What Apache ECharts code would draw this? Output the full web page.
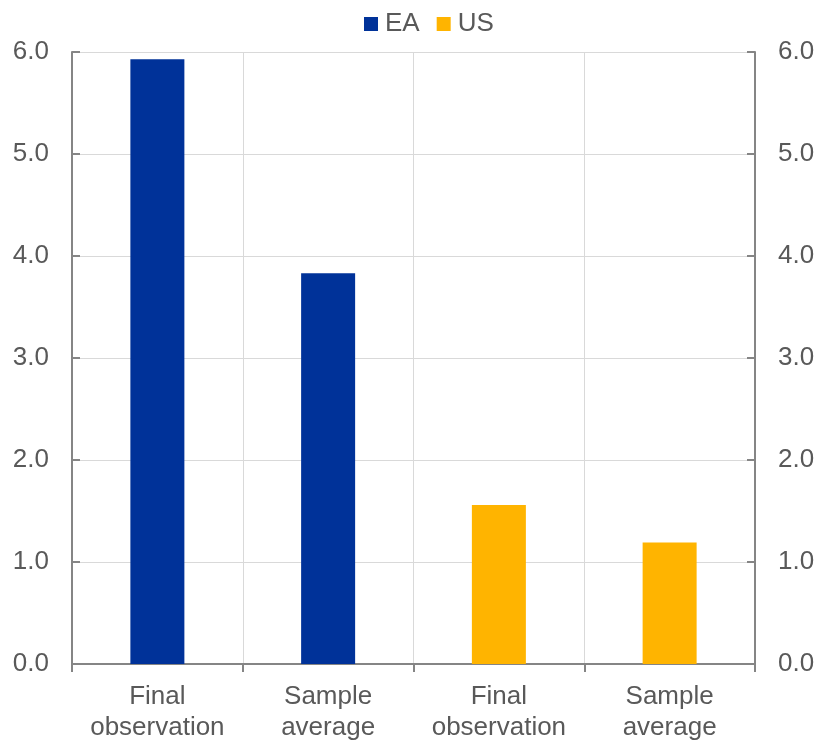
<!DOCTYPE html>
<html>
<head>
<meta charset="utf-8">
<script src="https://cdn.jsdelivr.net/npm/echarts@6/dist/echarts.min.js"></script>
<style>
  html, body { margin: 0; padding: 0; background: #fff; }
  #chart { width: 825px; height: 740px; }
</style>
</head>
<body>
<div id="chart"></div>
<script>
// Categories along the x axis
const categories = ['Final\nobservation', 'Sample\naverage', 'Final\nobservation', 'Sample\naverage'];
// Euro area values (first two groups) and US values (last two groups)
const eaValues = [5.93, 3.83, null, null];
const usValues = [null, null, 1.56, 1.19];
// Value axis range
const axisMin = 0;
const axisMax = 6;
const axisStep = 1;

const textColor = '#595959';
const axisColor = '#858585';
const gridColor = '#d9d9d9';
const fontFamily = 'Liberation Sans, Arial, sans-serif';

const valueAxis = (position) => ({
  type: 'value',
  position: position,
  min: axisMin,
  max: axisMax,
  interval: axisStep,
  axisLine: { show: true, lineStyle: { color: axisColor, width: 2 } },
  axisTick: { show: true, inside: true, length: 8, lineStyle: { color: axisColor, width: 2 } },
  axisLabel: {
    color: textColor,
    fontSize: 26,
    fontFamily: fontFamily,
    margin: 23,
    formatter: (v) => v.toFixed(1)
  },
  splitLine: { show: position === 'left', lineStyle: { color: gridColor, width: 1 } }
});

const chart = echarts.init(document.getElementById('chart'), null, { renderer: 'canvas' });
chart.setOption({
  animation: false,
  backgroundColor: '#ffffff',
  legend: {
    top: 6,
    left: 359,
    itemWidth: 14,
    itemHeight: 14,
    itemGap: 17,
    icon: 'rect',
    textStyle: { color: textColor, fontSize: 26, fontFamily: fontFamily, padding: [0, 0, 0, 2] },
    data: ['EA', 'US']
  },
  grid: { left: 72, right: 70, top: 52, bottom: 76, containLabel: false, outerBoundsMode: 'none' },
  xAxis: {
    type: 'category',
    data: categories,
    axisLine: { show: true, lineStyle: { color: axisColor, width: 2 } },
    axisTick: { show: true, length: 8, lineStyle: { color: axisColor, width: 2 } },
    axisLabel: {
      color: textColor,
      fontSize: 26,
      fontFamily: fontFamily,
      lineHeight: 31,
      margin: 17,
      interval: 0
    },
    splitLine: { show: true, lineStyle: { color: gridColor, width: 1 } }
  },
  yAxis: [valueAxis('left'), valueAxis('right')],
  series: [
    {
      name: 'EA',
      type: 'bar',
      data: eaValues,
      barWidth: 54,
      barGap: '-100%',
      itemStyle: { color: '#003299' }
    },
    {
      name: 'US',
      type: 'bar',
      data: usValues,
      barWidth: 54,
      itemStyle: { color: '#ffb400' }
    }
  ]
});
</script>
</body>
</html>
